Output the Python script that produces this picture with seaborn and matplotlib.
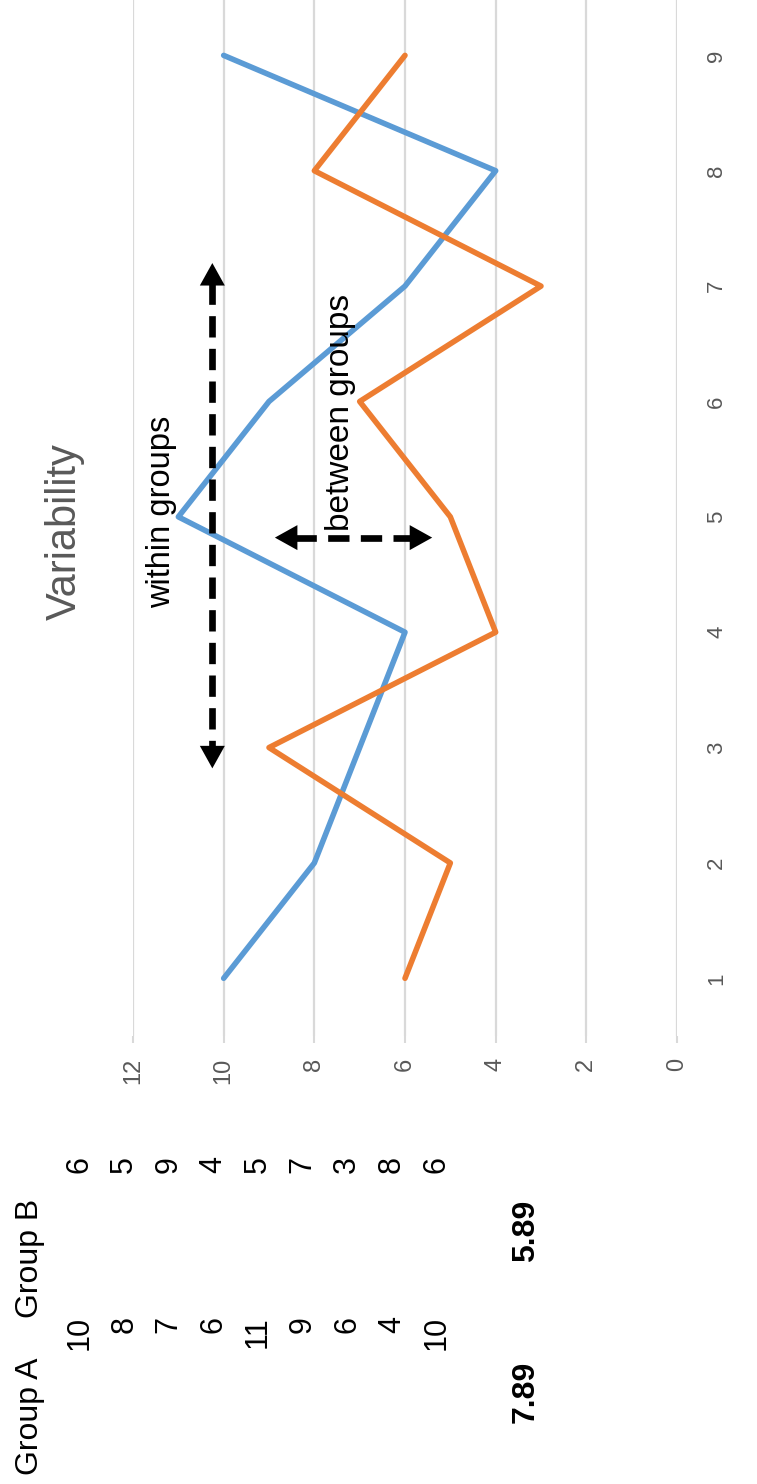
import matplotlib
matplotlib.use("Agg")
import matplotlib.pyplot as plt
import seaborn as sns
import pandas as pd

# Data
categories = [1, 2, 3, 4, 5, 6, 7, 8, 9]
group_a = [10, 8, 7, 6, 11, 9, 6, 4, 10]
group_b = [6, 5, 9, 4, 5, 7, 3, 8, 6]
group_names = ["Group A", "Group B"]
value_ticks = [0, 2, 4, 6, 8, 10, 12]
mean_a = sum(group_a) / len(group_a)
mean_b = sum(group_b) / len(group_b)

title = "Variability"
within_label = "within groups"
between_label = "between groups"

BLUE = "#5B9BD5"
ORANGE = "#ED7D31"
GRID = "#D9D9D9"
TICK = "#595959"

sns.set_theme(style="white")
plt.rcParams["font.family"] = ["Liberation Sans", "DejaVu Sans"]

W, H = 757, 1484
fig = plt.figure(figsize=(W / 100, H / 100), dpi=100)

def fx(px):
    return px / W

def fy(py):
    return 1 - py / H

# Plot area: values run right-to-left, categories bottom-to-top
ax_left, ax_right = 133, 677
ax_top, ax_bottom = 0, 1036
ax = fig.add_axes([fx(ax_left), fy(ax_bottom), (ax_right - ax_left) / W, (ax_bottom - ax_top) / H])

df = pd.DataFrame({
    "category": categories * 2,
    "value": group_a + group_b,
    "group": [group_names[0]] * len(categories) + [group_names[1]] * len(categories),
})

sns.lineplot(data=df, x="value", y="category", hue="group", sort=False,
             estimator=None, palette=[BLUE, ORANGE], linewidth=4.0,
             legend=False, ax=ax)

ax.set_xlim(12, 0)
ax.set_ylim(0.5, 9.48)
ax.set_xticks(value_ticks)
ax.set_yticks(categories)
ax.set_xticklabels([str(v) for v in value_ticks], rotation=90, color=TICK, fontsize=17)
ax.set_yticklabels([str(c) for c in categories], rotation=90, color=TICK, fontsize=16, va="center")
ax.yaxis.tick_right()
ax.tick_params(axis="x", length=5, width=1.5, color=GRID, pad=11, bottom=True)
ax.tick_params(axis="y", length=0, pad=21)
for lab in ax.get_xticklabels():
    lab.set_verticalalignment("top")
ax.grid(axis="x", color=GRID, linewidth=1.6)
ax.grid(axis="y", visible=False)
ax.set_axisbelow(True)
for s in ax.spines.values():
    s.set_visible(False)
ax.set_xlabel("")
ax.set_ylabel("")

# Dashed double-headed arrows
def dashed_arrow(x0, y0, x1, y1, horizontal):
    if horizontal:
        head = 0.45
        d = 1 if x0 > x1 else -1
        ax.plot([x0 - d * head, x1 + d * head], [y0, y1], color="black", linewidth=4.8,
                dashes=(3.2, 1.7), dash_capstyle="butt", zorder=4)
    else:
        head = 0.17
        ax.plot([x0, x1], [y0 - head, y1 + head], color="black", linewidth=4.8,
                dashes=(3.2, 1.7), dash_capstyle="butt", zorder=4)
    for (tx, ty), (bx, by) in [((x0, y0), (x1, y1)), ((x1, y1), (x0, y0))]:
        ax.annotate("", xy=(tx, ty), xytext=(bx, by),
                    arrowprops=dict(arrowstyle="-|>,head_length=0.9,head_width=0.5",
                                    color="black", lw=0, shrinkA=0, shrinkB=0,
                                    mutation_scale=18), zorder=5)

# within groups: vertical at value ~10.25 from category 7.2 down to 2.82
dashed_arrow(10.25, 7.2, 10.25, 2.82, horizontal=False)
# between groups: horizontal at category 4.82 from value 8.87 to 5.4
dashed_arrow(8.87, 4.82, 5.4, 4.82, horizontal=True)

fig.text(fx(162), fy(512), within_label, rotation=90, ha="center", va="center",
         fontsize=23.5, color="black")
fig.text(fx(340), fy(412), between_label, rotation=90, ha="center", va="center",
         fontsize=24, color="black")

# Title
fig.text(fx(65), fy(532), title, rotation=90, ha="center", va="center",
         fontsize=30, color=TICK)

# Data table
col_head = 30
col0 = 35
step = 44.6
fig.text(fx(col_head), fy(1475), group_names[0], rotation=90, ha="center", va="bottom",
         fontsize=23, color="black")
fig.text(fx(col_head), fy(1318), group_names[1], rotation=90, ha="center", va="bottom",
         fontsize=23, color="black")
for i, (a, b) in enumerate(zip(group_a, group_b)):
    x = col0 + (i + 1) * step
    fig.text(fx(x), fy(1316), str(a), rotation=90, ha="center", va="top",
             fontsize=22, color="black")
    fig.text(fx(x), fy(1156), str(b), rotation=90, ha="center", va="top",
             fontsize=22, color="black")
xm = col0 + 11 * step
fig.text(fx(xm), fy(1423), f"{mean_a:.2f}", rotation=90, ha="center", va="bottom",
         fontsize=23, fontweight="bold", color="black")
fig.text(fx(xm), fy(1262), f"{mean_b:.2f}", rotation=90, ha="center", va="bottom",
         fontsize=23, fontweight="bold", color="black")

fig.savefig("out.png", dpi=100, facecolor="white")
